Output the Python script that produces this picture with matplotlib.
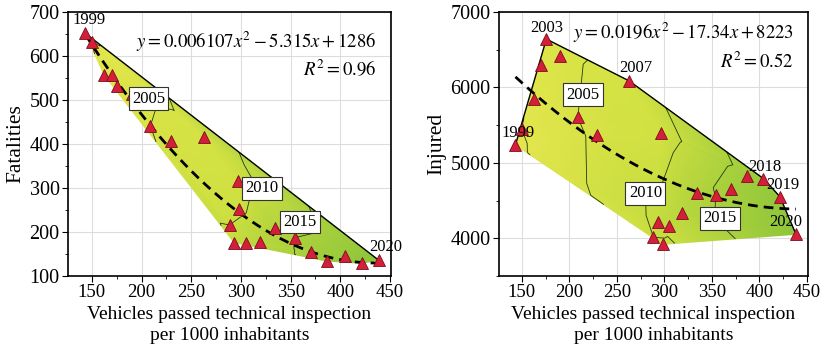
import numpy as np
import matplotlib
matplotlib.use('Agg')
import matplotlib.pyplot as plt
import matplotlib.tri as mtri
from matplotlib.colors import LinearSegmentedColormap
from matplotlib.ticker import MultipleLocator

plt.rcParams['font.family'] = ['Liberation Serif', 'DejaVu Serif']
plt.rcParams['mathtext.fontset'] = 'stix'

# data
years = list(range(1999, 2021))
vehicles = [143.3, 149.7, 162.3, 169.9, 175.8, 190.5, 208.9, 229.6, 262.8, 296.9, 298.2,
            288.5, 293.2, 304.8, 318.9, 334.0, 353.9, 370.5, 386.5, 404.2, 421.5, 438.5]
fatalities = [652, 633, 557, 557, 531, 514, 441, 408, 417, 315, 252,
              216, 176, 174, 177, 210, 187, 154, 134, 146, 129, 136]
injured = [5239, 5450, 5845, 6301, 6642, 6420, 5602, 5372, 6088, 5403, 3920,
           4013, 4221, 4168, 4341, 4597, 4575, 4650, 4827, 4792, 4553, 4053]

fit_fat = [0.006107, -5.315, 1286]
fit_inj = [0.0196, -17.34, 8223]
eq_fat = r'$y = 0.006107x^2 - 5.315x + 1286$'
eq_inj = r'$y = 0.0196x^2 - 17.34x + 8223$'
r2_fat = r'$R^2 = 0.96$'
r2_inj = r'$R^2 = 0.52$'

contour_years = [2000, 2005, 2010, 2015]

# year labels (plain text) and boxed contour labels, positions in data units
plain_fat = [('1999', 147.6, 681), ('2020', 446, 167)]
boxed_fat = [('2005', 207, 503), ('2010', 321, 299), ('2015', 359.6, 223)]
plain_inj = [('2003', 176.6, 6788), ('2007', 269.5, 6257), ('1999', 145.8, 5394),
             ('2018', 405.9, 4951), ('2019', 424.4, 4708), ('2020', 428, 4221)]
boxed_inj = [('2005', 214.1, 5903), ('2010', 280, 4597), ('2015', 358.6, 4265)]

cmap = LinearSegmentedColormap.from_list('yg', ['#e4e74e', '#cfe040', '#8cc53a'])


def upper_hull(x, y):
    pts = sorted(zip(x, y))
    hull = []
    for p in pts:
        while len(hull) >= 2:
            o, a = hull[-2], hull[-1]
            cr = (a[0] - o[0]) * (p[1] - o[1]) - (a[1] - o[1]) * (p[0] - o[0])
            if cr >= 0:
                hull.pop()
            else:
                break
        hull.append(p)
    return [h[0] for h in hull], [h[1] for h in hull]


def panel(ax, y, fit, eq, r2, plain, boxed, ylim, ymaj, ymin, ylabel, eq_y, r2_y):
    x = np.array(vehicles)
    y = np.array(y, dtype=float)
    z = np.array(years, dtype=float)
    # triangulate on normalised coords so the mesh is not skewed
    xn = (x - x.min()) / np.ptp(x)
    yn = (y - y.min()) / np.ptp(y)
    tri = mtri.Triangulation(x, y, mtri.Triangulation(xn, yn).triangles)
    ax.tripcolor(tri, z, shading='gouraud', cmap=cmap, vmin=1999, vmax=2020, zorder=1)
    ax.tricontour(tri, z, levels=contour_years, colors='#1f3a12', linewidths=0.6, zorder=2)

    hx, hy = upper_hull(x, y)
    ax.plot(hx, hy, color='black', lw=1.0, zorder=3)

    xs = np.linspace(x.min(), x.max(), 200)
    ax.plot(xs, np.polyval(fit, xs), color='black', lw=2.0, ls=(0, (3.5, 2.2)), zorder=4)

    ax.plot(x, y, ls='none', marker='^', ms=8, mfc='#d41e3a', mec='#7a0f1c', mew=0.6, zorder=5)

    for t, tx, ty in plain:
        ax.text(tx, ty, t, fontsize=12, ha='center', va='center', zorder=6)
    for t, tx, ty in boxed:
        ax.text(tx, ty, t, fontsize=12, ha='center', va='center', zorder=6,
                bbox=dict(boxstyle='square,pad=0.2', fc='white', ec='#333333', lw=0.8))

    ax.text(0.955, eq_y, eq, transform=ax.transAxes, fontsize=13.5, ha='right', va='center')
    ax.text(0.955, r2_y, r2, transform=ax.transAxes, fontsize=13.5, ha='right', va='center')

    ax.set_xlim(126, 451)
    ax.set_ylim(*ylim)
    ax.xaxis.set_major_locator(MultipleLocator(50))
    ax.xaxis.set_minor_locator(MultipleLocator(25))
    ax.yaxis.set_major_locator(MultipleLocator(ymaj))
    ax.yaxis.set_minor_locator(MultipleLocator(ymin))
    ax.grid(True, which='major', color='#dddddd', lw=0.8, zorder=0)
    ax.set_axisbelow(True)
    ax.tick_params(axis='x', which='major', labelsize=13.5, length=4, width=0.8, pad=2)
    ax.tick_params(axis='y', which='major', labelsize=14.5, length=4, width=0.8, pad=2)
    ax.tick_params(which='minor', length=2.5, width=0.6)
    for s in ax.spines.values():
        s.set_linewidth(1.2)
    ax.set_xlabel('Vehicles passed technical inspection\nper 1000 inhabitants',
                  fontsize=14, linespacing=1.35, labelpad=3)
    ax.set_ylabel(ylabel, fontsize=15.5, labelpad=3)


fig = plt.figure(figsize=(8.32, 3.55), dpi=100)
ax1 = fig.add_axes([0.0817, 0.2225, 0.3883, 0.7435])
ax2 = fig.add_axes([0.5998, 0.2225, 0.3712, 0.7435])

panel(ax1, fatalities, fit_fat, eq_fat, r2_fat, plain_fat, boxed_fat,
      (100, 700), 100, 50, 'Fatalities', 0.887, 0.784)
panel(ax2, injured, fit_inj, eq_inj, r2_inj, plain_inj, boxed_inj,
      (3500, 7000), 1000, 500, 'Injured', 0.92, 0.81)
ax2.set_yticks([4000, 5000, 6000, 7000])
ax2.yaxis.set_minor_locator(MultipleLocator(500))

fig.savefig('out.png', dpi=100)
